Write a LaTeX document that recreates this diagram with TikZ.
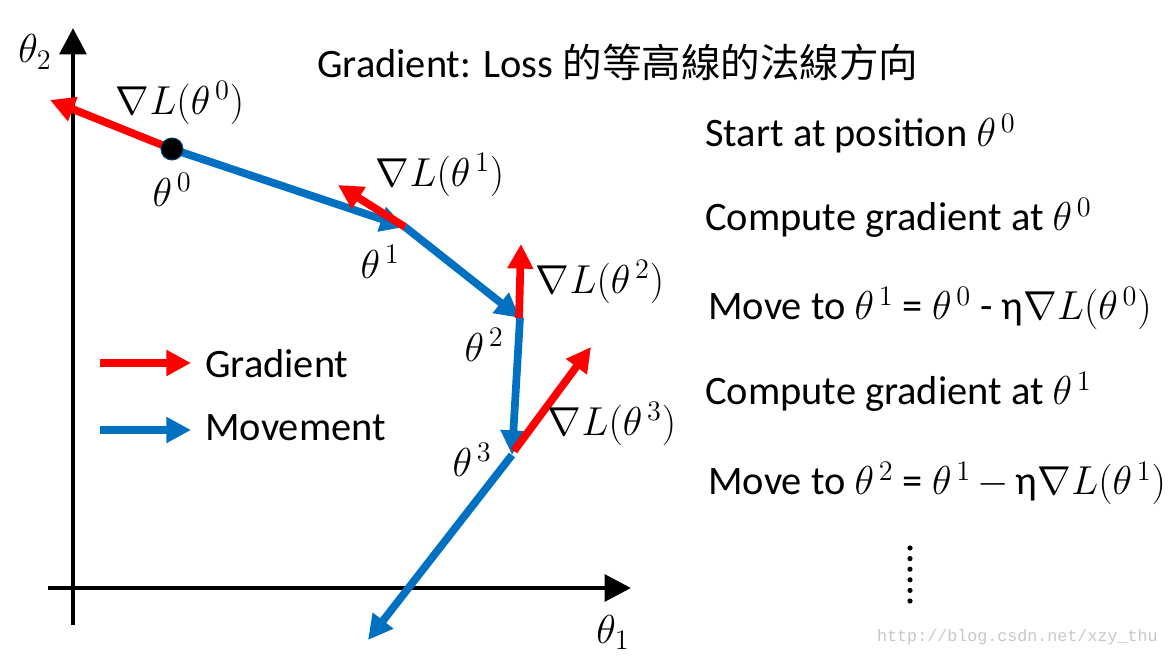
\RequirePackage{fix-cm}
\documentclass[tikz,border=0pt]{standalone}
\usepackage{fontspec}
\setmainfont{Carlito}
\newfontfamily\cjk{Noto Sans CJK TC}
\newfontfamily\wmfont{Liberation Mono}
\usetikzlibrary{arrows.meta}
\definecolor{mblue}{RGB}{0,112,192}
\definecolor{gred}{RGB}{255,0,0}
\newcommand{\bigtxt}{\fontsize{23}{27}\selectfont}
\newcommand{\thp}[1]{\theta^{\,#1}}

\begin{document}
\begin{tikzpicture}[x=0.02cm,y=-0.02cm,
  axis/.style={line width=2.8pt,-{Triangle[length=15pt,width=15pt]}},
  move/.style={draw=mblue,line width=4.4pt,-{Triangle[length=14pt,width=14pt]}},
  grad/.style={draw=gred,line width=4.4pt,-{Triangle[length=14pt,width=14pt]}},
  lbl/.style={font=\bigtxt,inner sep=0pt}]
\useasboundingbox (0,0) rectangle (1170,658);
% ---------- axes ----------
\coordinate (ybot) at (73,625);
\coordinate (ytop) at (73,28);
\coordinate (xleft) at (48,588);
\coordinate (xright) at (631,588);
\draw[axis] (ybot) -- (ytop);
\draw[axis] (xleft) -- (xright);
\node[lbl] (ylab) at (35,52) {$\theta_2$};
\node[lbl] (xlab) at (613,632) {$\theta_1$};
% ---------- path of the parameters ----------
\coordinate (p0) at (172,149);
\coordinate (p1) at (405,227);
\coordinate (p2) at (520,318);
\coordinate (p3) at (512,455);
\coordinate (p4) at (368,640);
\draw[move] (p0) -- (p1);
\draw[move] (p1) -- (p2);
\draw[move] (p2) -- (p3);
\draw[move] (p3) -- (p4);
% ---------- gradients ----------
\coordinate (g0) at (50,100);
\coordinate (g1) at (338,185);
\coordinate (g2) at (521,244);
\coordinate (g3) at (591,347);
\draw[grad] (p0) -- (g0);
\draw[grad] (p1) -- (g1);
\draw[grad] (519,318) -- (g2);
\draw[grad] (514,451) -- (g3);
\fill[black,draw=mblue!60!black,line width=0.6pt] (p0) circle (11);
% labels
\node[lbl] (n0) at (180,103) {$\nabla L(\thp0)$};
\node[lbl] (t0) at (172,190) {$\thp0$};
\node[lbl] (n1) at (440,175) {$\nabla L(\thp1)$};
\node[lbl] (t1) at (380,262) {$\thp1$};
\node[lbl] (n2) at (600,282) {$\nabla L(\thp2)$};
\node[lbl] (t2) at (484,345) {$\thp2$};
\node[lbl] (n3) at (612,424) {$\nabla L(\thp3)$};
\node[lbl] (t3) at (472,460) {$\thp3$};
% ---------- legend ----------
\coordinate (lg0) at (100,363);
\coordinate (lg1) at (191,363);
\coordinate (lm0) at (100,430);
\coordinate (lm1) at (191,430);
\draw[grad] (lg0) -- (lg1);
\draw[move] (lm0) -- (lm1);
\node[lbl,anchor=base west] (lgt) at (205,378) {Gradient};
\node[lbl,anchor=base west] (lmt) at (205,440) {Movement};
% ---------- title and steps ----------
\node[lbl,anchor=base west] (title) at (317,78) {Gradient: Loss {\cjk\fontsize{22.5}{27}\selectfont 的等高線的法線方向}};
\node[lbl,anchor=base west] (s1) at (705,147) {Start at position $\thp0$};
\node[lbl,anchor=base west] (s2) at (705,231) {Compute gradient at $\thp0$};
\node[lbl,anchor=base west] (s3) at (708,320) {Move to $\thp1$ = $\thp0$ - η$\nabla L(\thp0)$};
\node[lbl,anchor=base west] (s4) at (705,405) {Compute gradient at $\thp1$};
\node[lbl,anchor=base west] (s5) at (708,495) {Move to $\thp2$ = $\thp1$\,$-$\,η$\nabla L(\thp1)$};
\foreach \k in {0,...,5}
  \fill (910,{548+10.6*\k}) circle (2.6);
\node[font=\wmfont\fontsize{9.5}{11}\selectfont,text=black!22,anchor=east,inner sep=0pt] (wm) at (1158,637) {http://blog.csdn.net/xzy\_thu};
\end{tikzpicture}
\end{document}
